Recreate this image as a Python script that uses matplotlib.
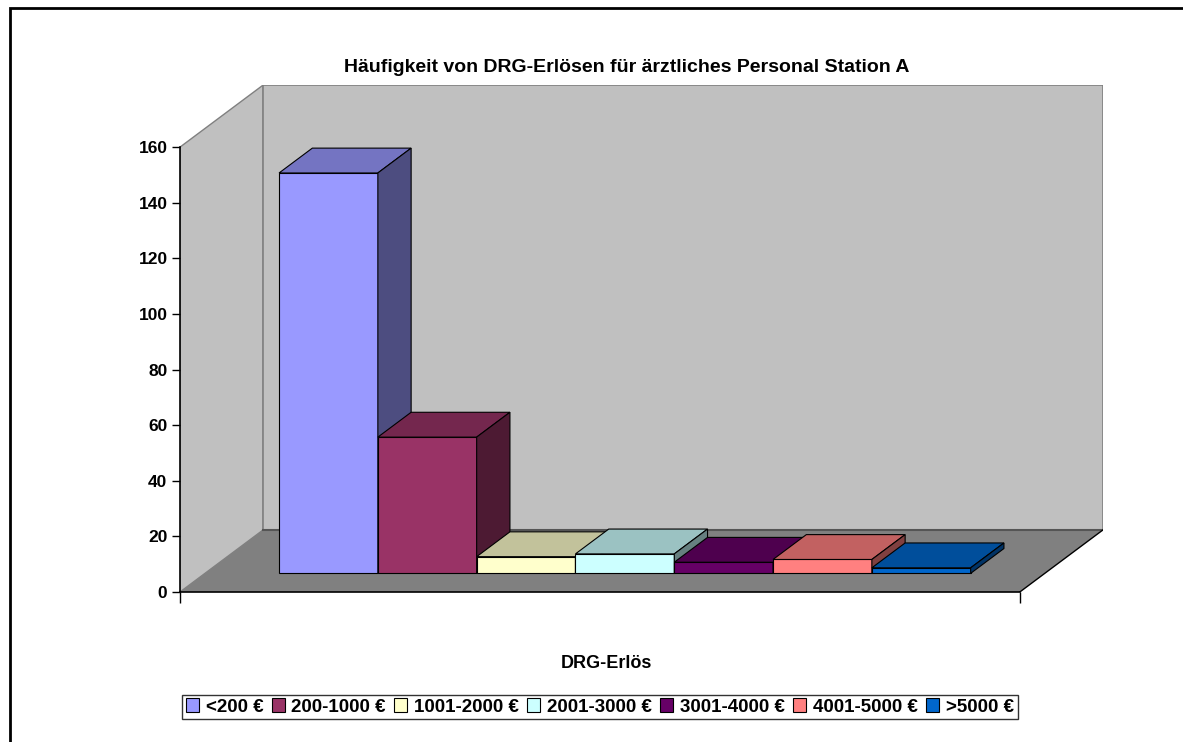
import matplotlib.pyplot as plt
from matplotlib.patches import Polygon, Rectangle, Patch
import numpy as np

plt.rcParams['font.family'] = ['Liberation Sans', 'DejaVu Sans']
plt.rcParams['font.weight'] = 'bold'

categories = ['<200 €', '200-1000 €', '1001-2000 €', '2001-3000 €',
              '3001-4000 €', '4001-5000 €', '>5000 €']
counts = [144, 49, 6, 7, 4, 5, 2]
colors = ['#9999FF', '#993366', '#FFFFCC', '#CCFFFF', '#660066', '#FF8080', '#0066CC']

title = 'Häufigkeit von DRG-Erlösen für ärztliches Personal Station A'
xlabel = 'DRG-Erlös'
yticks = [0, 20, 40, 60, 80, 100, 120, 140, 160]

# oblique 3d look: depth offset in data units
ymax = 160
span = 8.5        # front plane width in bar units
gap = 0.75
dx, dy = 0.842, 22.34
front, back = 0.3, 0.7


def shade(c, f):
    r, g, b = plt.matplotlib.colors.to_rgb(c)
    return (r * f, g * f, b * f)


fig = plt.figure(figsize=(11.83, 7.42), dpi=100)
ax = fig.add_axes([180 / 1183, 150 / 742, 923 / 1183, 507 / 742])
ax.set_xlim(0, span + dx)
ax.set_ylim(0, ymax + dy)

# walls and floor
ax.add_patch(Polygon([(0, 0), (dx, dy), (dx, ymax + dy), (0, ymax)],
                     closed=True, fc='#c0c0c0', ec='#808080', lw=1, zorder=1))
ax.add_patch(Rectangle((dx, dy), span, ymax, fc='#c0c0c0', ec='#808080', lw=1.2, zorder=1))
ax.add_patch(Polygon([(0, 0), (span, 0), (span + dx, dy), (dx, dy)],
                     closed=True, fc='#808080', ec='none', zorder=2))
ax.plot([dx, span + dx], [dy, dy], color='#555555', lw=1.5, zorder=2)
ax.plot([span, span + dx], [0, dy], color='black', lw=1, zorder=2)

# bars
for i, (v, c) in enumerate(zip(counts, colors)):
    x0 = gap + i
    x1 = x0 + 1
    fx, fy = front * dx, front * dy
    bx, by = back * dx, back * dy
    ax.bar(x0 + fx, v, width=1, bottom=fy, align='edge', color=c,
           edgecolor='black', linewidth=0.8, zorder=3 + i)
    ax.add_patch(Polygon([(x0 + fx, v + fy), (x1 + fx, v + fy),
                          (x1 + bx, v + by), (x0 + bx, v + by)],
                         closed=True, fc=shade(c, 0.76), ec='black', lw=0.8, zorder=3 + i))
    ax.add_patch(Polygon([(x1 + fx, fy), (x1 + bx, by),
                          (x1 + bx, v + by), (x1 + fx, v + fy)],
                         closed=True, fc=shade(c, 0.5), ec='black', lw=0.8, zorder=3 + i))

# axes lines
for s in ['top', 'right']:
    ax.spines[s].set_visible(False)
ax.spines['left'].set_bounds(0, ymax)
ax.spines['bottom'].set_bounds(0, span)
ax.spines['left'].set_linewidth(1.2)
ax.spines['bottom'].set_linewidth(1.2)
ax.spines['left'].set_zorder(20)
ax.spines['bottom'].set_zorder(20)
ax.set_yticks(yticks)
ax.set_yticklabels([str(t) for t in yticks], fontsize=12.5, fontweight='bold')
ax.tick_params(axis='y', direction='out', length=6, width=1, pad=3)
ax.set_xticks([0, span])
ax.set_xticklabels(['', ''])
ax.tick_params(axis='x', direction='out', length=8, width=1)
ax.patch.set_visible(False)

fig.text(627 / 1183, 1 - 68 / 742, title, ha='center', va='center',
         fontsize=14, fontweight='bold')
fig.text(606 / 1183, 1 - 663 / 742, xlabel, ha='center', va='center',
         fontsize=13, fontweight='bold')

handles = [Patch(facecolor=c, edgecolor='black', linewidth=0.8) for c in colors]
leg = fig.legend(handles, categories, loc='center', ncol=7,
                 bbox_to_anchor=(600 / 1183, 1 - 707 / 742),
                 handlelength=0.7, handleheight=0.7, handletextpad=0.35,
                 columnspacing=0.45, borderpad=0.2, fancybox=False,
                 prop={'size': 13.5, 'weight': 'bold'})
leg.get_frame().set_edgecolor('black')
leg.get_frame().set_linewidth(1)

# outer chart border
fig.patches.append(Rectangle((10 / 1183, -0.1), 1.2, 1 - 8 / 742 + 0.1,
                             transform=fig.transFigure, fill=False,
                             ec='black', lw=2))

fig.savefig('out.png', dpi=100)
